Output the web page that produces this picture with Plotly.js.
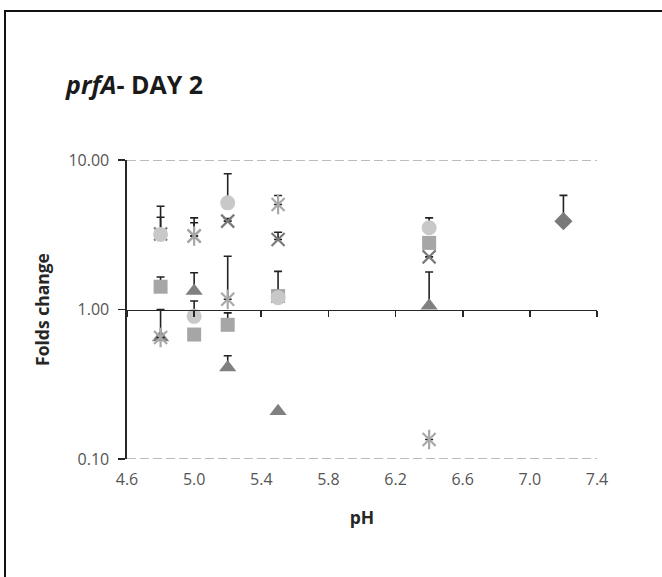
<!DOCTYPE html>
<html>
<head>
<meta charset="utf-8">
<script src="https://cdn.plot.ly/plotly-3.0.1.min.js"></script>
<style>
  html, body { margin: 0; padding: 0; background: #fff; overflow: hidden; }
  #chart { position: absolute; left: 0; top: 0; width: 662px; height: 577px; }
  #frame { position: absolute; left: 4px; top: 10px; width: 700px; height: 620px;
           border-left: 2px solid #111; border-top: 2px solid #111; pointer-events: none; }
</style>
</head>
<body>
<div id="chart"></div>
<div id="frame"></div>
<script>
// pH values at which each series was measured
var phAcid = [4.8, 5.0, 5.2, 5.5, 6.4];
var phNeutral = [7.2];

// fold change per series and the upper error (added to the value)
var circleFold = [3.18, 0.90, 5.17, 1.20, 3.52];
var circleErr  = [1.73, 0.24, 2.93, 0.00, 0.58];

var squareFold = [1.42, 0.68, 0.79, 1.23, 2.79];
var squareErr  = [0.23, 0.00, 0.16, 0.57, 0.00];

var triangleFold = [0.65, 1.33, 0.41, 0.209, 1.06];
var triangleErr  = [0.35, 0.43, 0.08, 0.00, 0.72];

var crossFold = [3.20, 3.10, 3.90, 2.94, 2.25];
var crossErr  = [0.94, 1.00, 0.16, 0.35, 0.00];

var starFold = [0.65, 3.10, 1.17, 5.04, 0.135];
var starErr  = [0.00, 0.70, 1.10, 0.75, 0.00];

var diamondFold = [3.90];
var diamondErr  = [1.90];

// axis ticks
var xTicks = [4.6, 5.0, 5.4, 5.8, 6.2, 6.6, 7.0, 7.4];
var xTickText = ['4.6', '5.0', '5.4', '5.8', '6.2', '6.6', '7.0', '7.4'];
var yTicks = [0.1, 1, 10];
var yTickText = ['0.10', '1.00', '10.00'];
var yGridLevels = [0.1, 10];

function errBar(arr) {
  return { type: 'data', symmetric: false, array: arr, arrayminus: arr.map(function () { return 0; }),
           color: '#222', thickness: 1.6, width: 4 };
}
function series(xs, ys, errs, symbol, color, size, lineW, xax) {
  var m = { symbol: symbol, size: size, color: color };
  if (lineW) m.line = { color: color, width: lineW };
  else m.line = { width: 0 };
  return { type: 'scatter', mode: 'markers', x: xs, y: ys, marker: m, xaxis: xax || 'x',
           error_y: errs ? errBar(errs) : { visible: false },
           showlegend: false, hoverinfo: 'x+y' };
}

var traces = [
  series(phAcid, squareFold, squareErr, 'square', '#a6a6a6', 14),
  series(phAcid, triangleFold, triangleErr, 'triangle-up', '#808080', 15),
  series(phAcid, crossFold, crossErr, 'x-thin-open', '#7a7a7a', 13, 2.2),
  series(phAcid, starFold, starErr, 'x-thin-open', '#a8a8a8', 13, 2.2),
  series(phAcid, starFold, null, 'line-ns-open', '#a8a8a8', 14, 2.2),
  series(phAcid, circleFold, circleErr, 'circle', '#c8c8c8', 15),
  // the neutral-pH point sits on the overlay axis (same range) so that axis is drawn
  series(phNeutral, diamondFold, diamondErr, 'diamond', '#7a7a7a', 14, 0, 'x2')
];

// dashed horizontal guides at 0.1 and 10
var shapes = yGridLevels.map(function (v) {
  return { type: 'line', xref: 'paper', x0: 0, x1: 1, yref: 'y', y0: v, y1: v,
           line: { color: '#a6a6a6', width: 1.3, dash: '9px,4px' }, layer: 'below' };
});

var tickFont = { family: 'Open Sans, sans-serif', size: 16, color: '#555555' };
var titleFont = { family: 'Open Sans, sans-serif', size: 17.5, color: '#262626', weight: 'bold' };

var layout = {
  width: 662, height: 577,
  margin: { l: 127, r: 65, t: 160, b: 118 },
  paper_bgcolor: '#ffffff', plot_bgcolor: '#ffffff',
  font: { family: 'Open Sans, sans-serif' },
  shapes: shapes,
  title: {
    text: '<b><i>prfA</i>- DAY 2</b>',
    x: 0.0997, xanchor: 'left', xref: 'container',
    y: 0.852, yanchor: 'middle', yref: 'container',
    font: { family: 'Open Sans, sans-serif', size: 25, color: '#1a1a1a' }
  },
  xaxis: {
    range: [4.6, 7.4], tickvals: xTicks, ticktext: xTickText,
    showline: false, showgrid: false, zeroline: false,
    ticks: 'outside', ticklen: 6, tickcolor: 'rgba(0,0,0,0)',
    tickfont: tickFont,
    title: { text: 'pH', font: titleFont, standoff: 22 }
  },
  // axis line crossing the plot at a fold change of 1
  xaxis2: {
    overlaying: 'x', anchor: 'free', position: 0.5, side: 'bottom',
    range: [4.6, 7.4], tickvals: xTicks, showticklabels: false,
    showline: true, linecolor: '#262626', linewidth: 1.6,
    ticks: 'outside', ticklen: 6, tickcolor: '#262626', tickwidth: 1.6,
    showgrid: false, zeroline: false
  },
  yaxis: {
    type: 'log', range: [-1, 1], tickvals: yTicks, ticktext: yTickText,
    showline: true, linecolor: '#262626', linewidth: 1.6,
    ticks: 'outside', ticklen: 7, tickcolor: '#262626', tickwidth: 1.6,
    ticklabelstandoff: 6,
    showgrid: false, zeroline: false, tickfont: tickFont,
    title: { text: 'Folds change', font: titleFont, standoff: 14 }
  }
};

Plotly.newPlot('chart', traces, layout, { displayModeBar: false, staticPlot: true });
</script>
</body>
</html>
